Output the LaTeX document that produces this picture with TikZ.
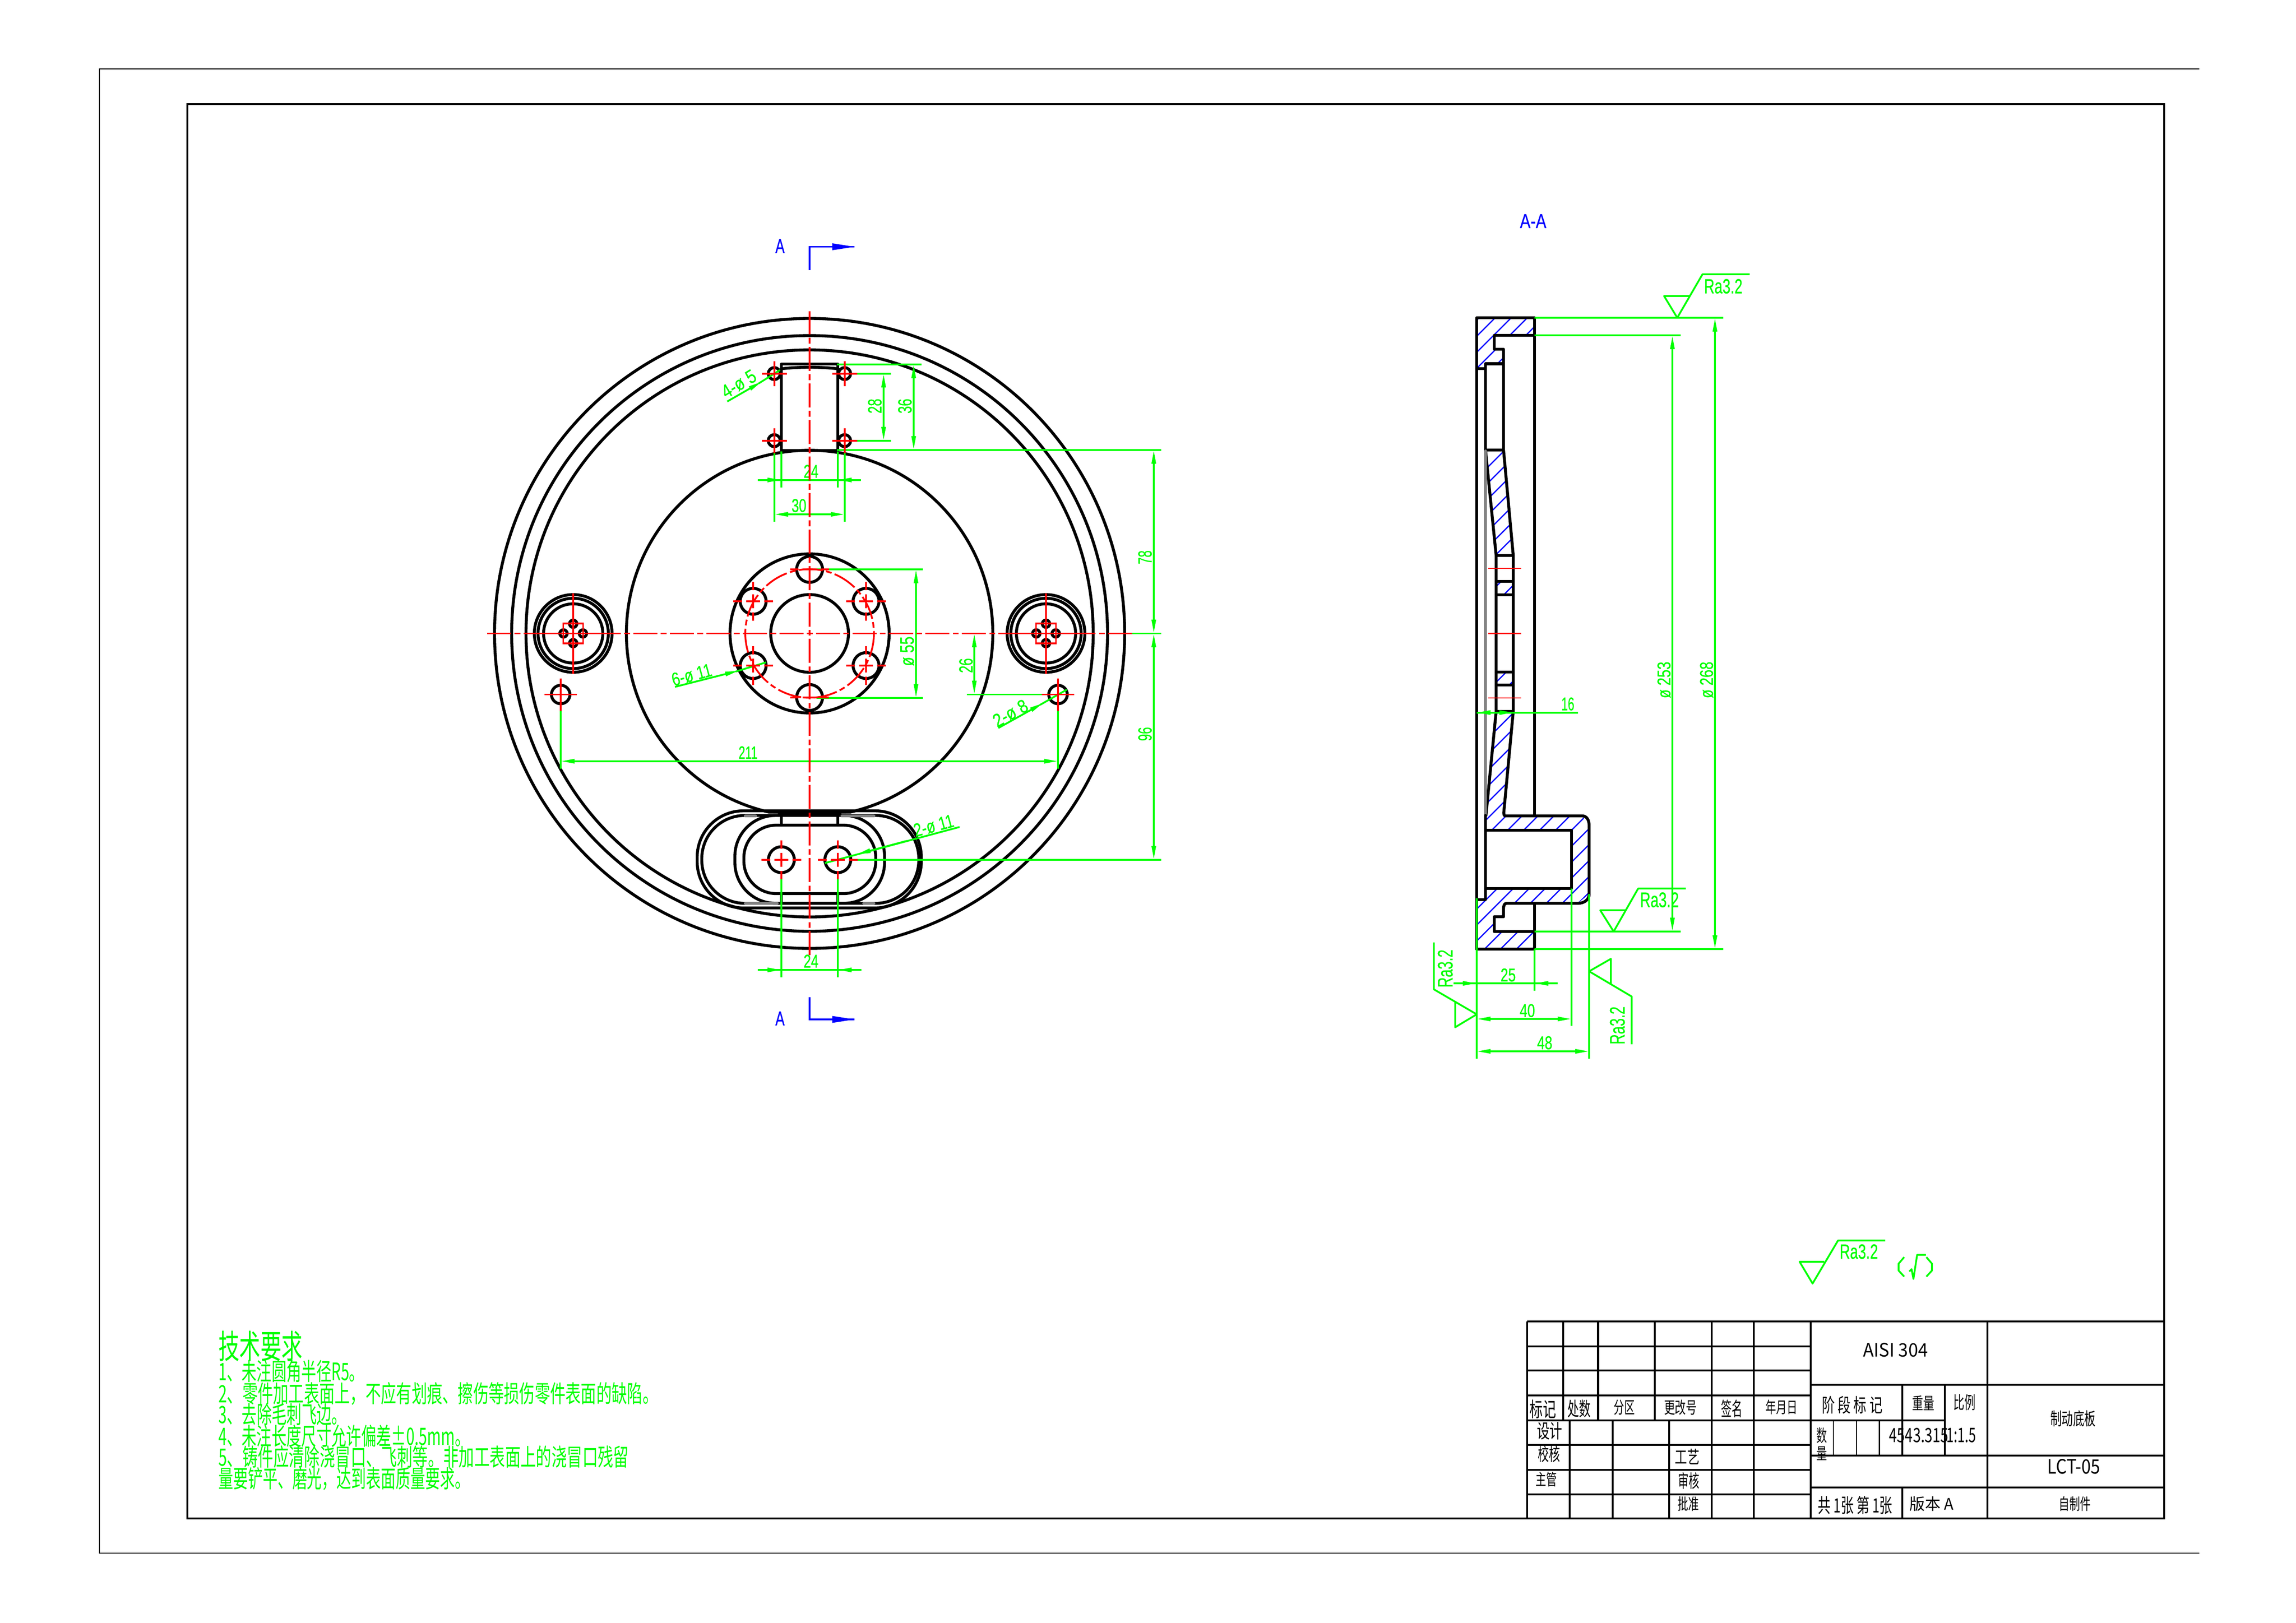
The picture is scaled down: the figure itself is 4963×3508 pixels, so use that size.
\documentclass[tikz,border=0pt]{standalone}
\usepackage{fontspec}
\usepackage{graphicx}
\usetikzlibrary{arrows.meta}
\setmainfont[FakeBold=0.6]{Liberation Sans}
\newfontfamily\cjk{Noto Sans CJK SC}
\definecolor{cg}{RGB}{0,255,0}
\definecolor{cr}{RGB}{255,0,0}
\definecolor{cb}{RGB}{0,0,255}
\newlength\pxu \setlength\pxu{0.01cm}
% rotated fitted label: [rot]{x}{y}{w}{h}{text}
\newcommand\lbl[6][0]{\node[rotate=#1,inner sep=0,text=cg] at (#2,#3) {\resizebox{#4\pxu}{#5\pxu}{#6}};}
\newcommand\lblw[5]{\node[anchor=west,inner sep=0,text=cg] at (#1,#2) {\resizebox{#3\pxu}{#4\pxu}{\cjk #5}};}
\newcommand\lblb[5]{\node[inner sep=0,text=cb] at (#1,#2) {\resizebox{#3\pxu}{#4\pxu}{#5}};}
\newcommand\tb[5]{\node[inner sep=0,text=black] at ({3280+#1/1.089},{2840+#2/3}) {\resizebox{#3\pxu}{#4\pxu}{\cjk #5}};}
\newcommand\cmk[2]{\draw[redl] ({#1-43},#2)--({#1-24},#2) ({#1-15},#2)--({#1+15},#2) ({#1+24},#2)--({#1+43},#2) (#1,{#2-42})--(#1,{#2-24}) (#1,{#2-15})--(#1,{#2+15}) (#1,{#2+24})--(#1,{#2+42});}
\newcommand\cms[3]{\draw[redl] ({#1-#3},#2)--({#1+#3},#2) (#1,{#2-#3})--(#1,{#2+#3});}
\tikzset{
 x=0.01cm,y=-0.01cm,
 blk/.style={draw=black,line width=1.8pt,line join=round,line cap=round},
 tbl/.style={draw=black,line width=1.2pt},
 gry/.style={draw=black!50,line width=1.8pt,line cap=round},
 grn/.style={draw=cg,line width=1.1pt},
 redl/.style={draw=cr,line width=1.1pt},
 axis/.style={draw=cr,line width=1.1pt,dash pattern=on 14.8pt off 2.1pt on 3.55pt off 2pt},
 blu/.style={draw=cb,line width=1pt},
 hat/.style={draw=cb,line width=0.75pt},
 tip/.style={-{Triangle[length=8.5pt,width=2.6pt,fill=cg]}},
 tips/.style={{Triangle[length=8.5pt,width=2.6pt,fill=cg]}-{Triangle[length=8.5pt,width=2.6pt,fill=cg]}},
}
\begin{document}
\begin{tikzpicture}
\useasboundingbox (0,0) rectangle (4963,3508);
\fill[white] (0,0) rectangle (4963,3508);
% frames
\draw[draw=black,line width=0.75pt] (4754,149)--(215,149)--(215,3358)--(4754,3358);
\draw[tbl] (405,225) rectangle (4678,3283);
% front view: circles
\foreach \r in {681,644,613} \draw[blk] (1750,1369.5) circle[radius=\r];
\begin{scope}
 \clip (0,0) rectangle (4963,1758);
 \draw[blk] (1750,1369.5) circle[radius=396];
\end{scope}
\draw[blk] (1683,1757)--(1817,1757);
\draw[blk] (1750,1369.5) circle[radius=172];
\draw[blk] (1750,1369.5) circle[radius=84];
\foreach \a/\b in {1750/1231,1750/1508,1628/1300,1872/1300,1628/1439,1872/1439}
 \draw[blk] (\a,\b) circle[radius=28];
% bosses
\foreach \c in {1239,2261} {
 \foreach \r in {84,76,64} \draw[blk] (\c,1369.5) circle[radius=\r];
 \foreach \d/\e in {-21/0,21/0,0/-21,0/21} \draw[blk] ({\c+\d},{1369.5+\e}) circle[radius=8];
}
\foreach \c in {1212,2287} \draw[blk] (\c,1501.5) circle[radius=20];
% upper slot
\draw[blk] (1689,976)--(1689,787)--(1811,787)--(1811,976);
\draw[blk] (1689,974)--(1811,974);
\begin{scope}
 \clip (1689,700) rectangle (1811,900);
 \draw[blk] (1750,1369.5) circle[radius=575.5];
\end{scope}
\foreach \a in {1673.6,1825.7} \foreach \b in {807.7,952.7} \draw[blk] (\a,\b) circle[radius=13];
% lower pocket
\draw[blk,rounded corners=1.0cm] (1507,1753) rectangle (1991.5,1963);
\draw[blk,rounded corners=0.93cm] (1517,1763) rectangle (1986,1953);
\draw[blk,rounded corners=0.88cm] (1588.5,1763) rectangle (1912,1953);
\draw[blk,rounded corners=0.7cm] (1608,1784) rectangle (1893,1932);
\draw[blk] (1689,1763)--(1689,1784) (1811,1763)--(1811,1784) (1689,1932)--(1689,1953) (1811,1932)--(1811,1953);
\draw[gry] (1611,1764)--(1633,1764) (1820,1764)--(1889,1764) (1611,1953)--(1680,1953) (1867,1953)--(1889,1953);
\foreach \a in {1689,1811} \draw[blk] (\a,1858.7) circle[radius=28];
% section hatch
\begin{scope}
 \clip (3192,687)--(3317,687)--(3317,725)--(3230,725)--(3230,755)--(3250,755)--(3250,786.5)--(3211,786.5)--(3211,797)--(3192,797)--cycle;
 \foreach \k in {-2,...,5} {\pgfmathsetmacro\s{3919+34.7*\k}
  \draw[hat] (3100,{\s-3100})--(3400,{\s-3400});}
\end{scope}
\begin{scope}
 \clip (3211,973)--(3250,973)--(3271,1201)--(3234,1201)--cycle
 (3234,1257)--(3271,1257)--(3271,1286)--(3234,1286)--cycle
 (3234,1453)--(3271,1453)--(3271,1481)--(3234,1481)--cycle
 (3234,1538)--(3271,1538)--(3250.5,1757)--(3254,1764)--(3420,1764)--(3435,1785)--(3435,1933)--(3410,1953)--(3257,1953)--(3250,1965)--(3250,1982)--(3230,1982)--(3230,2014)--(3317,2014)--(3317,2052)--(3192,2052)--(3192,1945)--(3211,1945)--(3211,1921)--(3397,1921)--(3397,1795)--(3211,1795)--(3211,1763)--cycle;
 \foreach \k in {0,...,38} {\pgfmathsetmacro\s{4226+34.5*\k}
  \draw[hat] (3100,{\s-3100})--(3500,{\s-3500});}
\end{scope}
% section outlines
\draw[blk] (3192,2052)--(3192,687)--(3317,687)--(3317,725)--(3230,725)--(3230,755)--(3250,755)--(3250,973);
\draw[blk] (3192,2052)--(3317,2052)--(3317,2014)--(3230,2014)--(3230,1982)--(3250,1982)--(3250,1965) .. controls (3250,1957) and (3252,1953) .. (3257,1953)--(3410,1953) .. controls (3425,1953) and (3435,1945) .. (3435,1933)--(3435,1785) .. controls (3435,1773) and (3430,1764) .. (3420,1764)--(3254,1764) .. controls (3251.5,1764) and (3250.5,1761) .. (3250.5,1757)--(3271,1538)--(3271,1201)--(3250,973)--(3211,973);
\draw[blk] (3317,725)--(3317,1764) (3317,1953)--(3317,2014);
\draw[blk] (3192,797)--(3211,797)--(3211,786.5)--(3250,786.5) (3211,786.5)--(3211,973);
\draw[blk] (3211,973)--(3234,1201)--(3234,1538)--(3212,1763);
\draw[gry] (3211,975)--(3211,1762);
\draw[blk] (3211,1763)--(3211,1945)--(3192,1945);
\draw[blk] (3234,1201)--(3271,1201) (3234,1257)--(3271,1257) (3234,1286)--(3271,1286) (3234,1453)--(3271,1453) (3234,1481)--(3271,1481) (3234,1538)--(3271,1538);
\draw[blk] (3211,1795)--(3397,1795)--(3397,1921)--(3211,1921);
% green dimension lines, front view
\draw[grn] (1809,787.7)--(1992,787.7) (1809,972.7)--(2510,972.7);
\draw[grn,tips] (1975,787.7)--(1975,972.7);
\draw[grn] (1852,807.7)--(1926,807.7) (1852,952.7)--(1926,952.7);
\draw[grn,tips] (1910,807.7)--(1910,952.7);
\draw[grn,tips] (2494,972.7)--(2494,1369.5);
\draw[grn,tips] (2494,1369.5)--(2494,1858.7);
\draw[grn] (2447,1369.5)--(2510,1369.5) (1847,1858.7)--(2510,1858.7);
\draw[grn] (1765,1231)--(1995,1231) (1765,1509)--(1995,1509);
\draw[grn,tips] (1980,1231)--(1980,1509);
\draw[grn,tips] (2106,1369.5)--(2106,1501.5);
\draw[grn] (2090,1501.5)--(2265,1501.5);
\draw[grn] (1212,1535)--(1212,1662) (2287,1535)--(2287,1662);
\draw[grn,tips] (1212,1645.7)--(2287,1645.7);
\draw[grn] (1689,976)--(1689,1054) (1811,976)--(1811,1054) (1673.6,980)--(1673.6,1128) (1825.7,980)--(1825.7,1128);
\draw[grn] (1638,1037.7)--(1861,1037.7);
\draw[grn,tip] (1640,1037.7)--(1689,1037.7);
\draw[grn,tip] (1860,1037.7)--(1811,1037.7);
\draw[grn,tips] (1673.6,1112)--(1825.7,1112);
\draw[grn] (1689,1900)--(1689,2113) (1811,1900)--(1811,2113);
\draw[grn] (1638,2097)--(1862,2097);
\draw[grn,tip] (1640,2097)--(1689,2097);
\draw[grn,tip] (1860,2097)--(1811,2097);
% leaders
\draw[grn,tip] (1572,868)--(1647,825);
\draw[grn] (1640,829)--(1686,800);
\draw[grn,tip] (1459,1485)--(1597,1450);
\draw[grn] (1590,1452)--(1656,1432);
\draw[grn,tip] (2158,1574)--(2255,1520);
\draw[grn] (2248,1524)--(2306,1491);
\draw[grn] (2074,1788)--(1783,1866);
\draw[grn,tip] (1960,1818)--(1852,1847);
% front labels
\lbl[31]{1597}{830}{80}{28}{4-ø 5}
\lbl[15]{1495}{1459}{88}{28}{6-ø 11}
\lbl[29]{2184}{1542}{80}{28}{2-ø 8}
\lbl[15]{2018}{1785}{88}{28}{2-ø 11}
\lbl[90]{1956}{878}{32}{29}{36}
\lbl[90]{1891}{878}{32}{29}{28}
\lbl[90]{2475}{1205}{30}{29}{78}
\lbl[90]{2475}{1587}{30}{29}{96}
\lbl[90]{1961}{1408}{64}{29}{ø 55}
\lbl[90]{2088}{1439}{32}{29}{26}
\lbl{1617}{1627}{41}{27}{211}
\lbl{1753}{1019}{32}{28}{24}
\lbl{1727}{1093}{32}{28}{30}
\lbl{1753}{2078}{32}{28}{24}
% section dimensions
\draw[grn] (3317,687)--(3724.5,687) (3317,725)--(3632.6,725) (3317,2014)--(3632.6,2014) (3317,2052)--(3724.5,2052);
\draw[grn,tips] (3615,725)--(3615,2014);
\draw[grn,tips] (3707,687)--(3707,2052);
\lbl[90]{3597}{1470}{79}{28}{ø 253}
\lbl[90]{3689}{1470}{79}{28}{ø 268}
\draw[grn] (3192,1540.6)--(3411,1540.6);
\draw[grn,tip] (3222,1540.6)--(3192,1540.6);
\draw[grn,tip] (3240,1540.6)--(3271,1540.6);
\lbl{3389}{1522}{28}{28}{16}
\draw[grn] (3142,2126)--(3367,2126) (3317,2052)--(3317,2142);
\draw[grn,tip] (3150,2126)--(3192,2126);
\draw[grn,tip] (3360,2126)--(3317,2126);
\lbl{3260}{2108}{33}{28}{25}
\draw[grn] (3192,1942)--(3192,2289) (3397,1921)--(3397,2218) (3435,1933)--(3435,2289);
\draw[grn,tips] (3192,2203)--(3397,2203);
\lbl{3301.5}{2185}{33}{28}{40}
\draw[grn,tips] (3192,2273)--(3435,2273);
\lbl{3339}{2254.5}{33}{28}{48}
% surface symbols
\draw[grn,line join=round] (3782,593)--(3680,593)--(3625.5,687)--(3597,640)--(3651,640);
\lbl{3725}{619}{83}{31}{Ra3.2}
\draw[grn,line join=round] (3644,1921)--(3541,1921)--(3488,2014)--(3459,1968)--(3513,1968);
\lbl{3587}{1945.5}{84}{32}{Ra3.2}
\draw[grn,line join=round] (3099.5,2037.6)--(3099.5,2139)--(3192,2193)--(3145.4,2221)--(3145.4,2167);
\lbl[90]{3124}{2094}{82}{32}{Ra3.2}
\draw[grn,line join=round] (3527,2257.6)--(3527,2154.5)--(3435,2100)--(3482,2073)--(3482,2127);
\lbl[90]{3496}{2217}{82}{32}{Ra3.2}
\draw[grn,line join=round] (4075,2682)--(3973,2682)--(3918,2775)--(3890,2728)--(3943,2728);
\lbl{4018}{2706}{83}{31}{Ra3.2}
\draw[grn,line join=round] (4116,2718)--(4104,2732)--(4104,2747)--(4116,2760);
\draw[grn,line join=round] (4164,2718)--(4176,2732)--(4176,2747)--(4164,2760);
\draw[grn,line join=round] (4127,2749)--(4132,2744)--(4136,2765)--(4144,2713)--(4163,2713);
% section marks
\draw[blu] (1750,584)--(1750,533.6)--(1847,533.6);
\draw[blu] (1750,2156)--(1750,2204)--(1847,2204);
\fill[cb] (1847,533.6)--(1799,526)--(1799,541)--cycle;
\fill[cb] (1847,2204)--(1799,2196.5)--(1799,2211.5)--cycle;
\lblb{1686}{532}{20}{30}{A}
\lblb{1686}{2202}{20}{30}{A}
\lblb{3314}{478}{57}{30}{A-A}
% red centre lines
\draw[axis,dash phase=0.6pt] (1750,673)--(1750,2068);
\draw[axis] (1053,1369.5)--(2447,1369.5);
\draw[axis] (1750,1369.5) circle[radius=139];
\foreach \c in {1239,2261} {
 \draw[redl] ({\c-102},1369.5)--({\c+102},1369.5) (\c,{1369.5-87})--(\c,{1369.5+87});
 \draw[redl] ({\c-21.5},{1369.5-21.5}) rectangle ({\c+21.5},{1369.5+21.5});
}
\foreach \a/\b in {1628/1300,1872/1300,1628/1439,1872/1439,1689/1858.7,1811/1858.7} \cmk{\a}{\b}
\draw[redl] (1708,1231)--(1726,1231) (1735,1231)--(1765,1231) (1774,1231)--(1792,1231) (1708,1508)--(1726,1508) (1735,1508)--(1765,1508) (1774,1508)--(1792,1508);
\foreach \c in {1212,2287} \cms{\c}{1501.5}{35}
\foreach \a in {1673.6,1825.7} \foreach \b in {807.7,952.7} \cms{\a}{\b}{27}
\draw[draw=cr,line width=0.6pt] (3217,1229)--(3288,1229) (3217,1369.5)--(3288,1369.5) (3217,1509)--(3288,1509);
% technical requirements
\lblw{471.6}{2910}{182}{60}{技术要求}
\lblw{471.6}{2965}{315}{44}{1、未注圆角半径R5。}
\lblw{471.6}{3013}{950}{44}{2、零件加工表面上，不应有划痕、擦伤等损伤零件表面的缺陷。}
\lblw{471.6}{3058}{277}{44}{3、去除毛刺飞边。}
\lblw{471.6}{3105}{543}{44}{4、未注长度尺寸允许偏差±0.5mm。}
\lblw{471.6}{3150}{887}{44}{5、铸件应清除浇冒口、飞刺等。非加工表面上的浇冒口残留}
\lblw{471.6}{3197}{543}{44}{量要铲平、磨光，达到表面质量要求。}
% title block
\draw[tbl] (3301,2857)--(4678,2857);
\draw[tbl] (3301,2857)--(3301,3283) (3913.6,2857)--(3913.6,3283) (4295.6,2857)--(4295.6,3283);
\draw[tbl] (3301,2910.7)--(3913.6,2910.7) (3301,2963)--(3913.6,2963) (3301,3016.7)--(3913.6,3016.7) (3301,3070.7)--(4204,3070.7) (3301,3124)--(3913.6,3124) (3301,3177.7)--(3913.6,3177.7) (3301,3230.7)--(3913.6,3230.7);
\foreach \a in {3379,3454.5,3576.6,3699.6,3790.6} \draw[tbl] (\a,2857)--(\a,3070.7);
\foreach \a in {3393,3485.7,3608,3699.6,3790.6} \draw[tbl] (\a,3070.7)--(\a,3283);
\draw[tbl] (3913.6,2994)--(4678,2994) (3913.6,3146.7)--(4678,3146.7) (3913.6,3215.7)--(4678,3215.7);
\draw[tbl] (4112,2994)--(4112,3146.7) (4204,2994)--(4204,3146.7) (4112,3215.7)--(4112,3283);
\foreach \a in {3963,4013,4062.4} \draw[tbl,line width=0.8pt] (\a,3070.7)--(\a,3146.7);
\tb{60}{620}{57}{37}{标记}
\tb{145}{617}{50}{35}{处数}
\tb{252}{609}{45}{30}{分区}
\tb{384}{609}{71}{30}{更改号}
\tb{505}{617}{46}{35}{签名}
\tb{622}{606}{69}{29}{年月日}
\tb{788}{592}{131}{35}{阶 段 标 记}
\tb{955}{580}{48}{30}{重量}
\tb{1053}{577}{48}{32}{比例}
\tb{76}{762}{55}{35}{设计}
\tb{75}{910}{48}{33}{校核}
\tb{68}{1074}{46}{29}{主管}
\tb{400}{927}{53}{32}{工艺}
\tb{403}{1085}{46}{33}{审核}
\tb{402}{1234}{46}{29}{批准}
\tb{890}{235}{140}{30}{AISI 304}
\tb{1308}{682}{98}{32}{制动底板}
\tb{1310}{992}{114}{32}{LCT-05}
\tb{1312}{1234}{69}{29}{自制件}
\tb{795}{1244}{161}{36}{共 1张 第 1张}
\tb{975}{1234}{95}{29}{版本 A}
\tb{717}{791}{23}{31}{数}
\tb{717}{907}{23}{28}{量}
\tb{945}{791}{128}{31}{4543.315}
\tb{1045}{791}{64}{31}{1:1.5}
\end{tikzpicture}
\end{document}
